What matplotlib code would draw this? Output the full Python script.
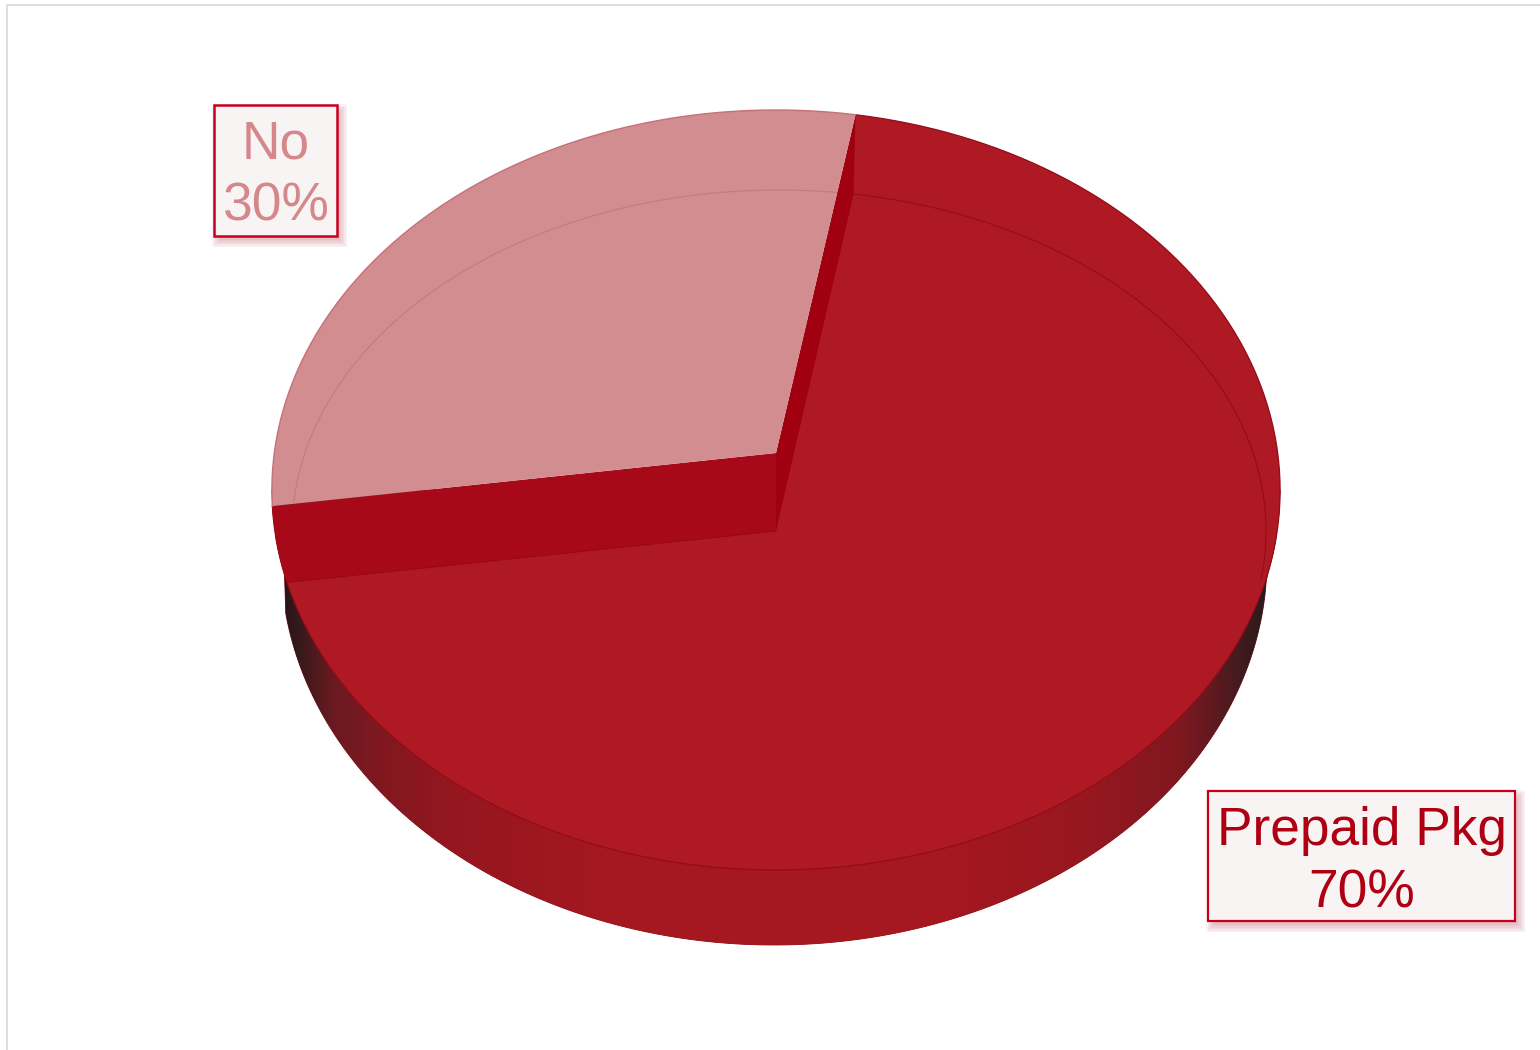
import numpy as np
import matplotlib
matplotlib.use('Agg')
import matplotlib.pyplot as plt
from matplotlib.colors import LinearSegmentedColormap
from matplotlib.patches import Polygon, Rectangle

plt.rcParams['font.family'] = ['Liberation Sans', 'DejaVu Sans']

categories = ['No', 'Prepaid Pkg']
shares = [30, 70]
start_angle = 10  # degrees clockwise from the far side of the disc

# projection of the unit disc onto the page, in pixels
CX, CY = 776, 453
PERSP = 0.0974
DEPTH = -332.3
WIDTH = 501.7
WALL_DROP = 78

LIGHT = '#D18D8F'
RED = '#AE1924'
WALL = '#A80918'
WALL_DARK = '#A0000F'


def project(theta, r=1.0):
    theta = np.radians(theta)
    t = r * np.cos(theta)
    u = r * np.sin(theta)
    w = 1 + PERSP * t
    return CX + WIDTH * u / w, (DEPTH * t + CY) / w


def arc(a, b, n=300):
    x, y = project(np.linspace(a, b, n))
    return np.column_stack([x, y])


def ellipse(cx, cy, a, b, t0=0, t1=360, n=400):
    t = np.radians(np.linspace(t0, t1, n))
    return cx + a * np.sin(t), cy - b * np.cos(t)


def label_box(ax, x0, y0, x1, y1, lines, baselines, color, edge, lw):
    # soft drop shadow built from stacked translucent rectangles
    for grow in np.arange(6, -6, -1.5):
        ax.add_patch(Rectangle((x0 + 4 - grow, y0 + 5 - grow), x1 - x0 + 2 * grow, y1 - y0 + 2 * grow,
                               fc='#A81C30', ec='none', alpha=0.05, zorder=10))
    ax.add_patch(Rectangle((x0, y0), x1 - x0, y1 - y0, fc='#F8F4F4', ec=edge, lw=lw, zorder=11))
    for line, base in zip(lines, baselines):
        ax.text((x0 + x1) / 2 + 0.5, base, line, color=color, fontsize=38.3, ha='center', va='baseline', zorder=12)


fig = plt.figure(figsize=(15.4, 10.5), dpi=100, facecolor='white')
ax = fig.add_axes([0, 0, 1, 1])

# side of the disc, shaded from the edges towards the middle
rim_x, rim_y = project(np.linspace(90, 270, 600))
grid = np.linspace(rim_x.min(), rim_x.max(), 800)
order = np.argsort(rim_x)
low_rim = np.interp(grid, rim_x[order], rim_y[order])
dx = np.clip((grid - 774) / 493, -1, 1)
low_base = np.where(np.abs(grid - 774) < 493, 560 + 385 * np.sqrt(1 - dx ** 2), 0)
low_base[grid < 285] = 0  # the side starts under the wall corner
bottom = np.maximum(low_rim, low_base)
side = Polygon(np.column_stack([np.r_[grid, grid[::-1]], np.r_[bottom, np.full(800, 490)]]),
               fc='#A5181F', ec='#8C0F18', lw=0.6, zorder=1)
ax.add_patch(side)

stops = [(272, '#1A1214'), (300, '#3A1A1C'), (330, '#6A1A20'), (375, '#7F1820'), (450, '#95161F'),
         (600, '#A5181F'), (950, '#A5181F'), (1090, '#97171F'), (1180, '#80181F'), (1225, '#551A20'),
         (1265, '#2A1A1C'), (1280, '#1A1214')]
shade = LinearSegmentedColormap.from_list('side', [((s - 272) / 1008, c) for s, c in stops])
img = ax.imshow(np.linspace(0, 1, 1008)[None, :], cmap=shade, aspect='auto',
                extent=(272, 1280, 950, 480), zorder=1.5)
img.set_clip_path(side)

# wedge angles come from the shares
no_sweep = shares[0] * 3.6
big_sweep = shares[1] * 3.6
no_end = start_angle - no_sweep
big_end = start_angle + big_sweep

apex = np.array([CX, CY])
low_apex = apex + [0, WALL_DROP]
edge_top = np.array(project(start_angle))
edge_left = np.array(project(no_end))

# large wedge sits a wall height below the small one at its tip
ax.add_patch(Polygon(np.vstack([arc(start_angle, big_end), low_apex]), fc=RED, ec='none', zorder=2))
ax.plot(*arc(start_angle, big_end).T, color='#930C17', lw=0.9, zorder=2.1)

# inner guide ring, it runs into the rim on the near right
ring_x, ring_y = ellipse(779, 531, 487, 341, -95, 98)
ax.plot(ring_x, ring_y, color='#950D18', lw=0.8, zorder=2.2)

# cut walls between the two wedges, the left one follows the rim down to the lower face
wall_rim = arc(no_end, no_end - 20, 120)
wall_rim = wall_rim[wall_rim[:, 1] <= edge_left[1] + WALL_DROP - 1]
ax.add_patch(Polygon(np.vstack([apex, wall_rim, low_apex]), fc=WALL, ec='none', zorder=3))
ax.add_patch(Polygon([apex, edge_top, edge_top + [-2, 80], low_apex], fc=WALL_DARK, ec='none', zorder=3))
ax.plot(*np.array([low_apex, wall_rim[-1]]).T, color='#9A0814', lw=0.8, zorder=3.1)

# small wedge
no_pts = np.vstack([arc(no_end, start_angle), apex])
no_patch = Polygon(no_pts, fc=LIGHT, ec='none', zorder=4)
ax.add_patch(no_patch)
ax.plot(*arc(no_end, start_angle).T, color='#C8707A', lw=1.0, zorder=4.1)
inner, = ax.plot(ring_x, ring_y, color='#C47A80', lw=0.8, zorder=4.2)
inner.set_clip_path(no_patch)

label_box(ax, 214, 105, 337, 236, [categories[0], f'{shares[0]}%'], [158.5, 220.5], '#D5888C', '#C8001E', 1.8)
label_box(ax, 1208, 791, 1515, 921, [categories[1], f'{shares[1]}%'], [845, 907], '#AE0012', '#C4001C', 1.6)

# thin page frame along the top and left
ax.plot([1540, 7, 7], [5, 5, 1050], color='#DEDEDE', lw=1.4, zorder=0)

ax.set_xlim(0, 1540)
ax.set_ylim(1050, 0)
ax.axis('off')
fig.savefig('out.png', dpi=100)
